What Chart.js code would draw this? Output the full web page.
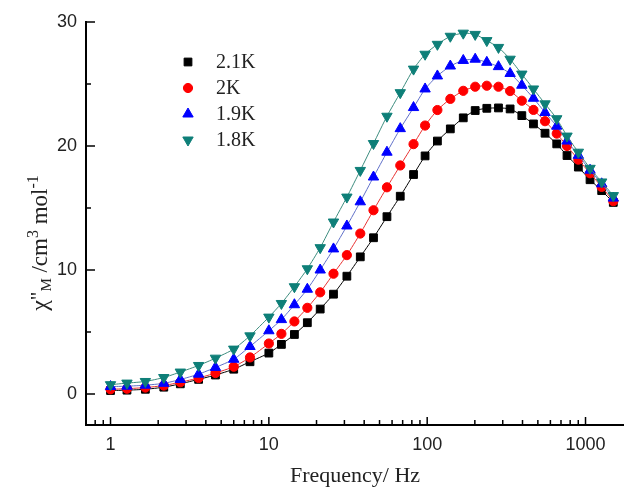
<!DOCTYPE html>
<html>
<head>
<meta charset="utf-8">
<script src="https://cdn.jsdelivr.net/npm/chart.js@4/dist/chart.umd.min.js"></script>
<style>
body { margin: 0; background: #fff; }
</style>
</head>
<body>
<canvas id="myChart" width="624" height="491"></canvas>
<script>
// frequencies (Hz) and chi'' values
const frequencies = [1, 1.27, 1.66, 2.17, 2.76, 3.6, 4.6, 6.0, 7.6, 10,
    12, 14.5, 17.5, 21.1, 25.6, 31.1, 37.8, 45.8, 55.7, 67.6,
    82, 97, 116, 140, 169, 201, 238, 282, 334, 396,
    469, 555, 658, 764, 901, 1068, 1265, 1498];
const chi21 = [0.28, 0.31, 0.38, 0.55, 0.82, 1.18, 1.53, 2.0, 2.6, 3.3,
    4.0, 4.8, 5.75, 6.85, 8.05, 9.5, 11.06, 12.6, 14.3, 15.95,
    17.7, 19.2, 20.4, 21.38, 22.27, 22.86, 23.04, 23.07, 22.99, 22.45,
    21.78, 21.03, 20.17, 19.23, 18.3, 17.28, 16.4, 15.45];
const chi20 = [0.38, 0.43, 0.52, 0.68, 0.95, 1.29, 1.69, 2.2, 2.95, 4.07,
    4.85, 5.85, 6.95, 8.2, 9.7, 11.2, 12.94, 14.82, 16.67, 18.43,
    20.15, 21.65, 22.9, 23.8, 24.45, 24.78, 24.86, 24.78, 24.43, 23.65,
    22.91, 22.0, 21.0, 20.0, 18.9, 17.8, 16.7, 15.55];
const chi19 = [0.6, 0.63, 0.71, 0.86, 1.17, 1.6, 2.14, 2.8, 3.83, 5.1,
    6.0, 7.2, 8.45, 10.0, 11.7, 13.55, 15.5, 17.5, 19.5, 21.4,
    23.1, 24.6, 25.65, 26.45, 26.9, 27.0, 26.75, 26.4, 25.85, 24.9,
    23.85, 22.7, 21.6, 20.4, 19.25, 18.05, 16.95, 15.8];
const chi18 = [0.75, 0.88, 1.01, 1.33, 1.77, 2.3, 2.89, 3.62, 4.69, 6.2,
    7.3, 8.65, 10.1, 11.8, 13.87, 15.88, 18.03, 20.2, 22.4, 24.3,
    26.2, 27.4, 28.2, 28.85, 29.1, 29.0, 28.5, 27.95, 27.0, 25.8,
    24.6, 23.4, 22.2, 20.8, 19.5, 18.2, 17.1, 16.0];
const seriesLabels = ['2.1K', '2K', '1.9K', '1.8K'];

const xTickValues = [0.8, 0.9, 1, 2, 3, 4, 5, 6, 7, 8, 9, 10, 20, 30, 40, 50, 60, 70, 80, 90,
    100, 200, 300, 400, 500, 600, 700, 800, 900, 1000];
const xTickLabels = ['1', '10', '100', '1000'];
const yTickValues = [0, 5, 10, 15, 20, 25, 30];
const yTickLabels = ['0', '10', '20', '30'];

function toPoints(values) {
    return frequencies.map(function(f, i) { return {x: f, y: values[i]}; });
}

function makeSet(label, values, color, lineColor, style, radius, rotation, order) {
    return {
        label: label,
        data: toPoints(values),
        borderColor: lineColor,
        borderWidth: 1,
        pointStyle: style,
        pointRadius: radius,
        pointRotation: rotation,
        pointBackgroundColor: color,
        pointBorderColor: color,
        pointBorderWidth: 1,
        tension: 0.2,
        order: order
    };
}

const datasets = [
    makeSet(seriesLabels[0], chi21, '#000000', '#000000', 'rect', 5.5, 0, 4),
    makeSet(seriesLabels[1], chi20, '#ff0000', '#e83030', 'circle', 4.6, 0, 3),
    makeSet(seriesLabels[2], chi19, '#0000ff', '#6070c8', 'triangle', 6, 0, 2),
    makeSet(seriesLabels[3], chi18, '#0e7f78', '#3c8c7e', 'triangle', 6, 180, 1)
];

// ticks pointing into the plot
const inwardTicks = {
    id: 'inwardTicks',
    afterDatasetsDraw(chart) {
        const ctx = chart.ctx;
        const area = chart.chartArea;
        const x = chart.scales.x, y = chart.scales.y;
        ctx.save();
        ctx.strokeStyle = '#000';
        ctx.lineWidth = 1.5;
        x.ticks.forEach(function(t) {
            const px = x.getPixelForValue(t.value);
            const len = xTickLabels.includes(String(t.value)) ? 8 : 5;
            ctx.beginPath();
            ctx.moveTo(px, area.bottom);
            ctx.lineTo(px, area.bottom - len);
            ctx.stroke();
        });
        y.ticks.forEach(function(t) {
            const py = y.getPixelForValue(t.value);
            const len = yTickLabels.includes(String(t.value)) ? 9 : 5;
            ctx.beginPath();
            ctx.moveTo(area.left, py);
            ctx.lineTo(area.left + len, py);
            ctx.stroke();
        });
        ctx.restore();
    }
};

// y title with sub/superscripts
const yTitle = {
    id: 'yTitle',
    afterDraw(chart) {
        const ctx = chart.ctx;
        const parts = [
            {t: '\u03C7', size: 24, dy: 0},
            {t: '"', size: 21, dy: -2},
            {t: 'M', size: 15, dy: 4},
            {t: ' /cm', size: 23, dy: 0},
            {t: '3', size: 16, dy: -9},
            {t: ' mol', size: 23, dy: 0},
            {t: '-1', size: 16, dy: -9}
        ];
        ctx.save();
        let total = 0;
        parts.forEach(function(p) {
            ctx.font = p.size + 'px "Liberation Serif"';
            p.w = ctx.measureText(p.t).width;
            total += p.w;
        });
        ctx.translate(47, 243);
        ctx.rotate(-Math.PI / 2);
        ctx.fillStyle = '#222';
        ctx.textBaseline = 'alphabetic';
        let cx = -total / 2;
        parts.forEach(function(p) {
            ctx.font = p.size + 'px "Liberation Serif"';
            ctx.fillText(p.t, cx, p.dy);
            cx += p.w;
        });
        ctx.restore();
    }
};

// legend in the upper left of the plot
function drawLegend(chart) {
    const ctx = chart.ctx;
    chart.data.datasets.forEach(function(ds, i) {
        const yy = 62 + i * 26;
        ctx.save();
        ctx.fillStyle = ds.pointBackgroundColor;
        ctx.strokeStyle = ds.pointBorderColor;
        ctx.lineWidth = 1;
        Chart.helpers.drawPoint(ctx, {
            pointStyle: ds.pointStyle,
            rotation: ds.pointRotation,
            radius: ds.pointRadius,
            borderWidth: 1
        }, 188, yy);
        ctx.fillStyle = '#222';
        ctx.font = '20px "Liberation Serif"';
        ctx.textBaseline = 'middle';
        ctx.fillText(ds.label, 216, yy + 1);
        ctx.restore();
    });
}

const legendPlugin = { id: 'legendPlugin', afterDraw: drawLegend };

const ctx = document.getElementById('myChart').getContext('2d');
new Chart(ctx, {
    type: 'line',
    data: { datasets: datasets },
    plugins: [inwardTicks, yTitle, legendPlugin],
    options: {
        responsive: false,
        animation: false,
        layout: { autoPadding: false, padding: { top: 22, left: 0, right: 0, bottom: 0 } },
        plugins: { legend: { display: false }, tooltip: { enabled: false } },
        scales: {
            x: {
                type: 'logarithmic',
                min: 0.706,
                max: 1750,
                afterBuildTicks: function(scale) { scale.ticks = xTickValues.map(function(v) { return {value: v}; }); },
                afterFit: function(scale) { scale.height = 66; },
                grid: { display: false, drawTicks: false },
                border: { display: true, color: '#000', width: 2 },
                ticks: {
                    autoSkip: false,
                    maxRotation: 0,
                    padding: 9,
                    color: '#222',
                    font: { family: '"Liberation Sans"', size: 18 },
                    callback: function(value) {
                        const s = String(value);
                        return xTickLabels.includes(s) ? s : '';
                    }
                },
                title: {
                    display: true,
                    text: 'Frequency/ Hz',
                    color: '#222',
                    font: { family: '"Liberation Serif"', size: 22 },
                    padding: { top: 0, bottom: 2 }
                }
            },
            y: {
                min: -2.5,
                max: 30,
                afterBuildTicks: function(scale) { scale.ticks = yTickValues.map(function(v) { return {value: v}; }); },
                afterFit: function(scale) { scale.width = 86; },
                grid: { display: false, drawTicks: false },
                border: { display: true, color: '#000', width: 2 },
                ticks: {
                    autoSkip: false,
                    padding: 9,
                    color: '#222',
                    font: { family: '"Liberation Sans"', size: 18 },
                    callback: function(value) {
                        const s = String(value);
                        return yTickLabels.includes(s) ? s : '';
                    }
                }
            }
        }
    }
});
</script>
</body>
</html>
